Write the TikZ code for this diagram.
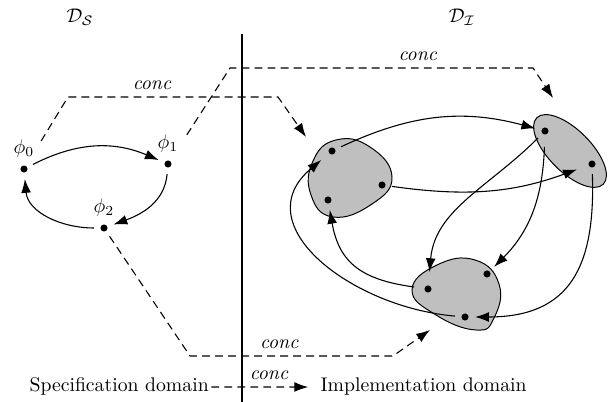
\documentclass[tikz,border=0pt]{standalone}
\usetikzlibrary{arrows.meta}
\tikzset{
  statedot/.style={circle, fill, inner sep=0pt, minimum size=3.6pt, outer sep=3.3pt},
  concmap/.style={->, dash pattern=on 4pt off 2.6pt},
  region/.style={draw, fill=gray!50, line width=0.5pt},
  >={Latex[length=7pt,width=5pt]}
}
\begin{document}
\begin{tikzpicture}[x=0.507pt, y=0.507pt, line width=0.55pt]
\useasboundingbox (0,0) rectangle (609,402);
% the two domains
\node (DS) at (80,385) {$\mathcal{D}_\mathcal{S}$};
\node (DI) at (462,385) {$\mathcal{D}_\mathcal{I}$};
\coordinate (sepTop) at (242,368);
\coordinate (sepBot) at (242,0);
\draw[line width=0.8pt] (sepTop) -- (sepBot);

% specification states
\node[statedot, label={[label distance=-3pt]above:$\phi_0$}] (phi0) at (24,233) {};
\node[statedot, label={[label distance=-3pt]above:$\phi_1$}] (phi1) at (168,238) {};
\node[statedot, label={[label distance=-3pt]above:$\phi_2$}] (phi2) at (104,174) {};
\draw[->] (phi0) to[bend left=25] (phi1);
\draw[->] (phi1) to[out=-95,in=20] (phi2);
\draw[->] (phi2) to[out=180,in=-85] (phi0);

% implementation regions
\draw[region] plot[smooth cycle, tension=0.8] coordinates {(313,241) (336,262) (370,255) (392,225) (372,198) (333,185) (311,207)};
\draw[region, rotate around={-45:(570,251)}] (570,251) ellipse (47 and 21);
\draw[region] plot[smooth cycle, tension=0.8] coordinates {(412,112) (437,137) (475,142) (499,118) (494,84) (476,72) (436,87)};
\node[statedot] (a1) at (332,251) {};
\node[statedot] (a2) at (382,217) {};
\node[statedot] (a3) at (328,202) {};
\node[statedot] (b1) at (545,271) {};
\node[statedot] (b2) at (592,238) {};
\node[statedot] (c1) at (428,113) {};
\node[statedot] (c2) at (487,128) {};
\node[statedot] (c3) at (465,85) {};
\draw[->] (a1) to[out=25,in=165] (b1);
\draw[->, shorten >=3pt] (a2) to[out=-8,in=200] (b2);
\draw[->, shorten >=3.5pt] (b1) to[out=-135,in=85] (c1);
\draw[->, shorten <=3pt] (b1) to[out=-92,in=45] (c2);
\draw[->] (b2) to[out=-88,in=0,looseness=1.3] (c3);
\draw[->, shorten <=2pt] (c1) to[out=172,in=-80,looseness=1.2] (a3);
\draw[->, shorten >=2pt] (c3) to[out=175,in=220,looseness=1.3] (a1);

% conc mappings
\coordinate (k1) at (68,305);
\coordinate (k2) at (278,305);
\coordinate (t1) at (306,265);
\coordinate (k3) at (230,334);
\coordinate (k4) at (533,334);
\coordinate (t2) at (553,304);
\coordinate (k5) at (190,46);
\coordinate (k6) at (393,46);
\coordinate (t3) at (430,72);
\draw[concmap, shorten <=11.5pt] (phi0) -- (k1) -- node[pos=0.4,above] {\emph{conc}} (k2) -- (t1);
\draw[concmap, shorten <=12.5pt] (phi1) -- (k3) -- node[pos=0.62,above] {\emph{conc}} (k4) -- (t2);
\draw[concmap] (phi2) -- (k5) -- node[pos=0.44,above] {\emph{conc}} (k6) -- (t3);

% legend
\node[anchor=base west, inner sep=0pt] (spec) at (29,10) {Specification domain};
\node[anchor=base west, inner sep=0pt] (impl) at (320,10) {Implementation domain};
\draw[concmap, shorten <=1pt, shorten >=6pt] (spec) -- node[pos=0.54,above] {\emph{conc}} (impl);
\end{tikzpicture}
\end{document}
